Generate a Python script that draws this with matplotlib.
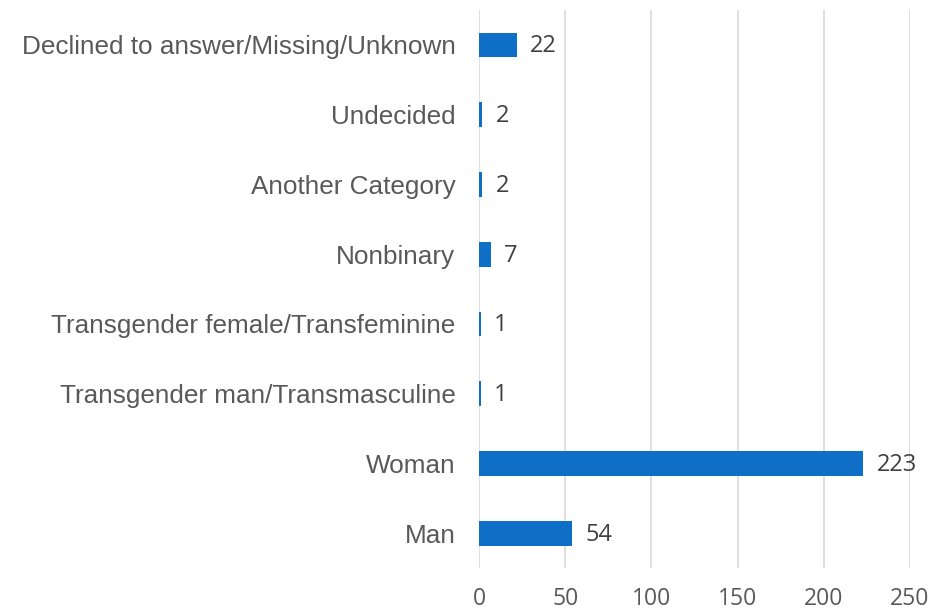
import matplotlib
matplotlib.use('Agg')
import matplotlib.pyplot as plt

CATEGORIES = ['Man', 'Woman', 'Transgender man/Transmasculine',
              'Transgender female/Transfeminine', 'Nonbinary',
              'Another Category', 'Undecided',
              'Declined to answer/Missing/Unknown']
COUNTS = [54, 223, 1, 1, 7, 2, 2, 22]
XTICKS = [0, 50, 100, 150, 200, 250]

BLUE = '#0F6FC6'
GRID = '#D9D9D9'

fig = plt.figure(figsize=(9.51, 6.15), dpi=100)
ax = fig.add_axes([0.5037, 0.0764, 0.4532, 0.9073])

ypos = list(range(len(CATEGORIES)))
ax.barh(ypos, COUNTS, height=0.355, color=BLUE, zorder=3)
for y, v in zip(ypos, COUNTS):
    ax.annotate(str(v), (v, y), xytext=(9.5, -1), textcoords='offset points',
                va='center', ha='left', fontsize=17, color='#404040',
                family='Open Sans')

ax.set_xlim(0, 250)
ax.set_ylim(-0.5, len(CATEGORIES) - 0.5)
ax.set_xticks(XTICKS)
ax.set_xticklabels([str(t) for t in XTICKS], family='Open Sans',
                   fontsize=16.5, color='#595959')
ax.set_yticks(ypos)
ax.set_yticklabels(CATEGORIES, family='Liberation Sans', fontsize=18.8,
                   color='#595959', va='center_baseline')
ax.tick_params(axis='both', length=0)
ax.tick_params(axis='x', pad=14)
ax.tick_params(axis='y', pad=17)
ax.grid(axis='x', color=GRID, lw=1.2, zorder=0)
for s in ax.spines.values():
    s.set_visible(False)

fig.savefig('out.png', dpi=100)
